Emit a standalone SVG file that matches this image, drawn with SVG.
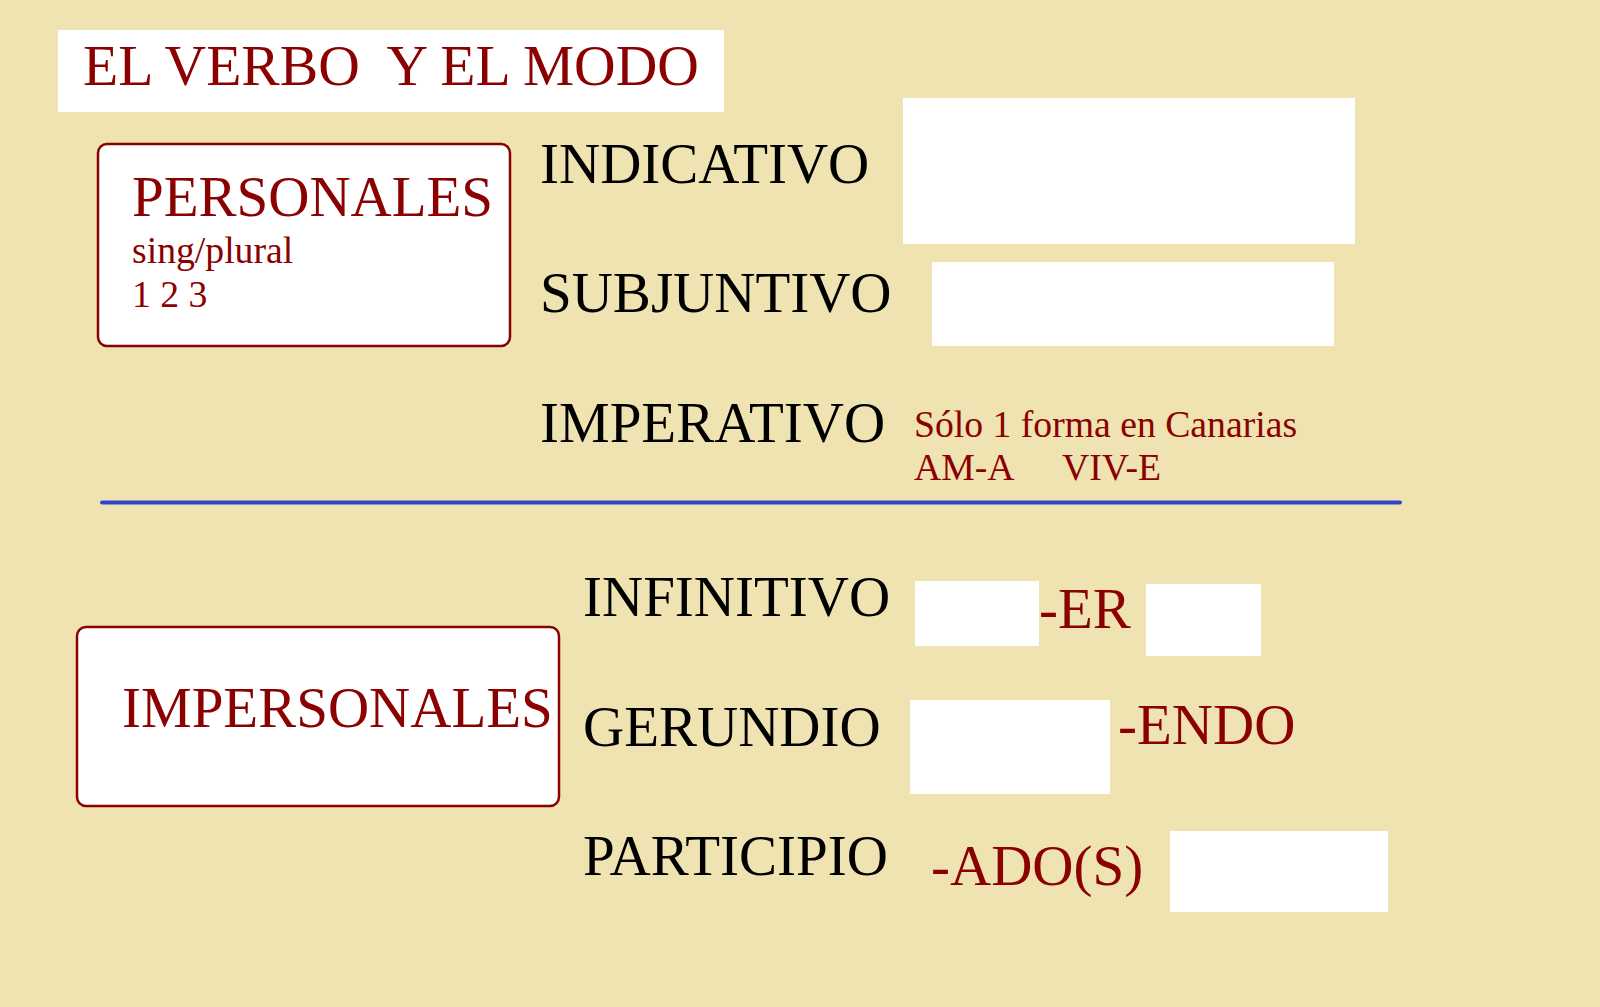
<svg xmlns="http://www.w3.org/2000/svg" width="1600" height="1007" viewBox="0 0 1600 1007">
<style>
.t{font-family:"Liberation Serif","Times New Roman",serif;}
.big{font-size:57px;}
.red{fill:#8B0000;}
.blk{fill:#000000;}
.sm{font-size:37.7px;}
.blank{fill:#FFFFFF;}
.box{fill:#FFFFFF;stroke:#8B0000;stroke-width:2.5;}
</style>
<rect x="0" y="0" width="1600" height="1007" fill="#EEE3B1"/>
<g id="title">
<rect class="blank" x="58" y="30" width="666" height="82"/>
<text class="t red" x="83" y="85" font-size="57.6" xml:space="preserve">EL VERBO  Y EL MODO</text>
</g>
<g id="personales">
<rect class="box" x="98" y="144" width="412" height="202" rx="9"/>
<text class="t big red" x="132" y="216">PERSONALES</text>
<text class="t sm red" x="132" y="263">sing/plural</text>
<text class="t sm red" x="132" y="307">1 2 3</text>
</g>
<g id="indicativo">
<text class="t big blk" x="540" y="183">INDICATIVO</text>
<rect class="blank" x="903" y="98" width="452" height="146"/>
</g>
<g id="subjuntivo">
<text class="t big blk" x="540" y="312">SUBJUNTIVO</text>
<rect class="blank" x="932" y="262" width="402" height="84"/>
</g>
<g id="imperativo">
<text class="t big blk" x="540" y="442">IMPERATIVO</text>
<text class="t sm red" x="914" y="437">Sólo 1 forma en Canarias</text>
<text class="t sm red" x="914" y="480">AM-A</text>
<text class="t sm red" x="1062" y="480">VIV-E</text>
</g>
<g id="connectors">
<line x1="102" y1="502.5" x2="1400" y2="502.5" stroke="#3344CC" stroke-width="4" stroke-linecap="round"/>
</g>
<g id="impersonales">
<rect class="box" x="77" y="627" width="482" height="179" rx="9"/>
<text class="t big red" x="122" y="727">IMPERSONALES</text>
</g>
<g id="infinitivo">
<text class="t big blk" x="583" y="616">INFINITIVO</text>
<rect class="blank" x="915" y="581" width="124" height="65"/>
<text class="t big red" x="1039" y="628">-ER</text>
<rect class="blank" x="1146" y="584" width="115" height="72"/>
</g>
<g id="gerundio">
<text class="t big blk" x="583" y="746">GERUNDIO</text>
<rect class="blank" x="910" y="700" width="200" height="94"/>
<text class="t big red" x="1118" y="744">-ENDO</text>
</g>
<g id="participio">
<text class="t big blk" x="583" y="875">PARTICIPIO</text>
<text class="t big red" x="931" y="885">-ADO(S)</text>
<rect class="blank" x="1170" y="831" width="218" height="81"/>
</g>
</svg>
